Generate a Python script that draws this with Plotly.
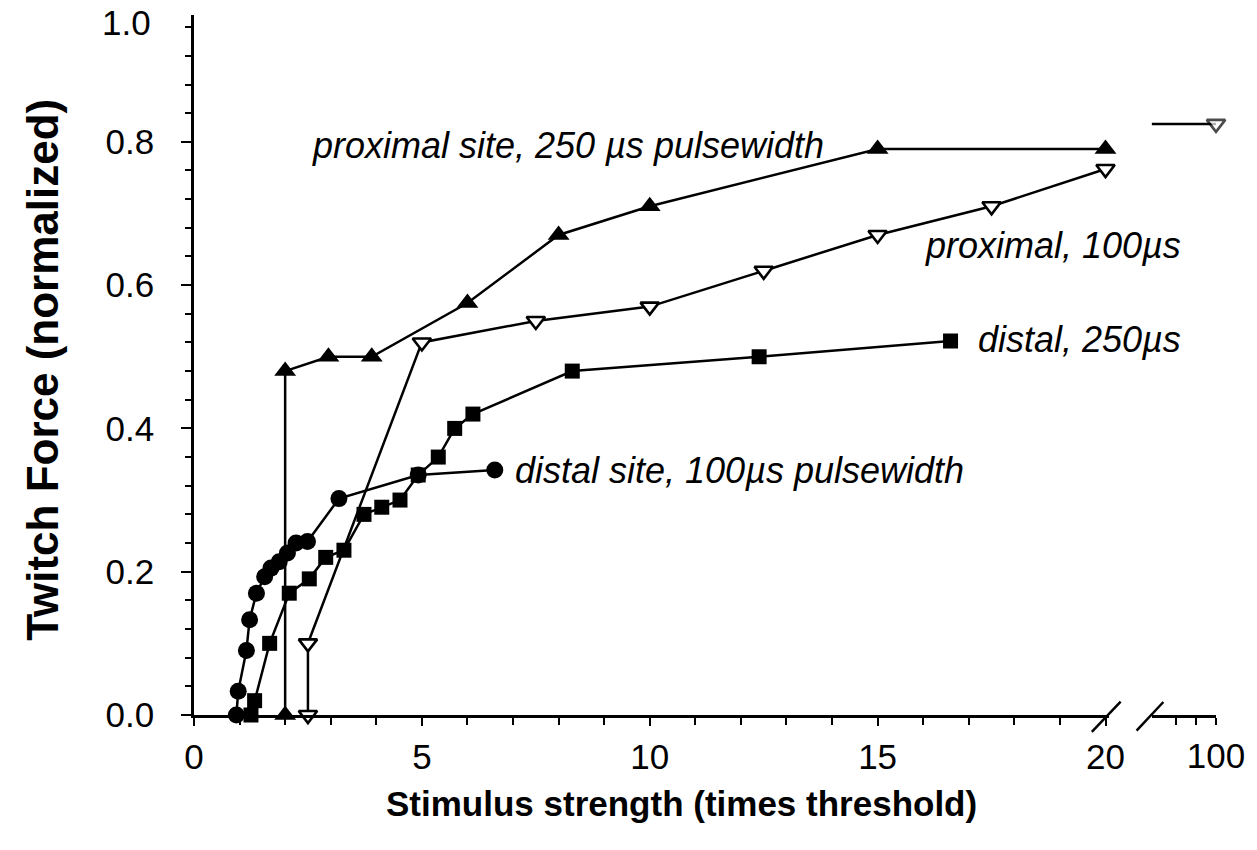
import plotly.graph_objects as go

# ---------------- data ----------------
# distal site, 100 us pulsewidth (filled circles)
distal100_x = [0.93, 0.97, 1.15, 1.22, 1.37, 1.55, 1.69, 1.87, 2.05, 2.24, 2.49, 3.18, 4.92, 6.6]
distal100_y = [0.0, 0.033, 0.09, 0.133, 0.17, 0.193, 0.205, 0.214, 0.226, 0.24, 0.242, 0.302, 0.335, 0.342]

# distal, 250 us (filled squares)
distal250_x = [1.25, 1.33, 1.66, 2.09, 2.53, 2.89, 3.29, 3.73, 4.12, 4.52, 4.92, 5.36, 5.72, 6.12, 8.3, 12.4, 16.6]
distal250_y = [0.0, 0.02, 0.10, 0.17, 0.19, 0.22, 0.23, 0.28, 0.29, 0.30, 0.335, 0.36, 0.40, 0.42, 0.48, 0.50, 0.522]

# proximal site, 250 us pulsewidth (filled up-triangles)
prox250_x = [2.0, 2.0, 2.95, 3.9, 6.0, 8.0, 10.0, 15.0, 20.0]
prox250_y = [0.0, 0.48, 0.50, 0.50, 0.575, 0.67, 0.71, 0.79, 0.79]

# proximal, 100 us (open down-triangles)
prox100_x = [2.5, 2.5, 5.0, 7.5, 10.0, 12.5, 15.0, 17.5, 20.0]
prox100_y = [0.0, 0.10, 0.52, 0.55, 0.57, 0.62, 0.67, 0.71, 0.762]
# value at 100x threshold (beyond the axis break)
prox100_far_x = [96.75, 100.0]
prox100_far_y = [0.825, 0.825]

x_tickvals = [0, 5, 10, 15, 20]
x_ticktext = ["0", "5", "10", "15", "20"]
x2_tickvals = [98, 99, 100]
x2_ticktext = ["", "", "100"]
y_tickvals = [0.0, 0.2, 0.4, 0.6, 0.8]
y_ticktext = ["0.0", "0.2", "0.4", "0.6", "0.8"]

# ---------------- figure ----------------
FONT = "Liberation Sans"
LW = 2.5
fig = go.Figure()

def add(x, y, symbol, size, xaxis="x", open_=False, sizes=None):
    fig.add_trace(go.Scatter(
        x=x, y=y, mode="lines+markers", xaxis=xaxis, yaxis="y",
        line=dict(color="black", width=LW),
        marker=dict(symbol=symbol, size=sizes if sizes is not None else size,
                    color="white" if open_ else "black",
                    line=dict(color="black", width=2.6 if open_ else 0)),
        cliponaxis=False, showlegend=False))

add(distal250_x, distal250_y, "square", 15)
add(distal100_x, distal100_y, "circle", 17)
add(prox250_x, prox250_y, "triangle-up", 19)
add(prox100_x, prox100_y, "triangle-down", 16, open_=True)
add(prox100_far_x, prox100_far_y, "triangle-down", 16, xaxis="x2", open_=True, sizes=[0, 16])

ann_font = dict(family=FONT, size=36, color="black")
annotations = [
    dict(text="<i>proximal site, 250 µs pulsewidth</i>", x=0.618, y=0.814, xanchor="right", yanchor="middle"),
    dict(text="<i>proximal, 100µs</i>", x=0.968, y=0.671, xanchor="right", yanchor="middle"),
    dict(text="<i>distal, 250µs</i>", x=0.968, y=0.536, xanchor="right", yanchor="middle"),
    dict(text="<i>distal site, 100µs pulsewidth</i>", x=0.312, y=0.35, xanchor="left", yanchor="middle"),
    dict(text="<b>Twitch Force (normalized)</b>", x=-0.148, y=0.493, textangle=-90,
         xanchor="center", yanchor="middle", font=dict(family=FONT, size=44, color="black")),
    dict(text="<b>Stimulus strength (times threshold)</b>", x=0.477, y=-0.126,
         xanchor="center", yanchor="middle", font=dict(family=FONT, size=35, color="black")),
    dict(text="1.0", x=-0.04, y=0.99, xanchor="right", yanchor="middle",
         font=dict(family=FONT, size=35, color="black")),
]
for a in annotations:
    a.setdefault("font", ann_font)
    a.update(xref="paper", yref="paper", showarrow=False)

slash = dict(type="line", xref="paper", yref="paper", line=dict(color="black", width=2.5))
shapes = [
    dict(slash, x0=0.8785, y0=-0.024, x1=0.9067, y1=0.019),
    dict(slash, x0=0.9223, y0=-0.0224, x1=0.9485, y1=0.0186),
]

axis_common = dict(showline=True, linecolor="black", linewidth=2.5, showgrid=False, zeroline=False,
                   ticks="outside", tickcolor="black", tickwidth=2,
                   tickfont=dict(family=FONT, size=35, color="black"))

fig.update_layout(
    width=1257, height=850,
    margin=dict(l=194, r=34, t=15, b=135),
    paper_bgcolor="white", plot_bgcolor="white",
    xaxis=dict(axis_common, domain=[0, 0.895], range=[0, 20.07], tickvals=x_tickvals, ticktext=x_ticktext,
               ticklen=8, ticklabelstandoff=1,
               minor=dict(dtick=1, tick0=0, ticklen=7, ticks="outside", tickcolor="black", tickwidth=2),
               anchor="y"),
    xaxis2=dict(axis_common, domain=[0.937, 1.0], range=[96.75, 100], tickvals=x2_tickvals, ticktext=x2_ticktext,
                ticklen=7, ticklabelstandoff=1, anchor="y"),
    yaxis=dict(axis_common, range=[0, 0.977], tickvals=y_tickvals, ticktext=y_ticktext, ticklen=10,
               ticklabelstandoff=20,
               minor=dict(dtick=0.04, tick0=0, ticklen=6, ticks="outside", tickcolor="black", tickwidth=2)),
    annotations=annotations, shapes=shapes,
)

fig.write_html("out.html")
